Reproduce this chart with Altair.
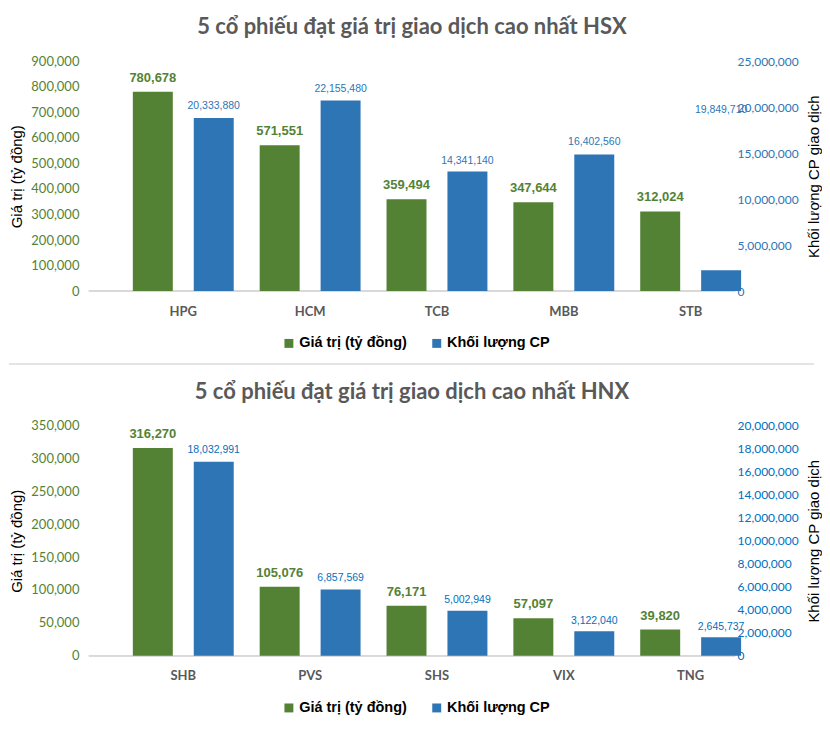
import altair as alt
import pandas as pd

SERIES = ["Giá trị (tỷ đồng)", "Khối lượng CP"]
GREEN = "#548235"
BLUE = "#2E75B6"

# ---- HSX panel data ----
hsx_title = "5 cổ phiếu đạt giá trị giao dịch cao nhất HSX"
hsx_codes = ["HPG", "HCM", "TCB", "MBB", "STB"]
hsx_value = [780678, 571551, 359494, 347644, 312024]
hsx_volume_label = [20333880, 22155480, 14341140, 16402560, 19849710]
hsx_volume_bar = [18840000, 20730000, 13010000, 14860000, 2280000]
hsx_left_ticks = [0, 100000, 200000, 300000, 400000, 500000, 600000, 700000, 800000, 900000]
hsx_right_ticks = [0, 5000000, 10000000, 15000000, 20000000, 25000000]

# ---- HNX panel data ----
hnx_title = "5 cổ phiếu đạt giá trị giao dịch cao nhất HNX"
hnx_codes = ["SHB", "PVS", "SHS", "VIX", "TNG"]
hnx_value = [316270, 105076, 76171, 57097, 39820]
hnx_volume_label = [18032991, 6857569, 5002949, 3122040, 2645737]
hnx_volume_bar = [16880000, 5760000, 3900000, 2120000, 1600000]
hnx_left_ticks = [0, 50000, 100000, 150000, 200000, 250000, 300000, 350000]
hnx_right_ticks = [0, 2000000, 4000000, 6000000, 8000000, 10000000, 12000000,
                   14000000, 16000000, 18000000, 20000000]

W = 647
H = 230
NARROW = "Liberation Sans Narrow, Arial Narrow, Liberation Sans"


def panel(title, codes, value, vol_label, vol_bar, left_ticks, right_ticks, right_color):
    dv = pd.DataFrame({"code": codes, "series": SERIES[0], "value": value})
    db = pd.DataFrame({"code": codes, "series": SERIES[1], "bar": vol_bar, "label": vol_label})

    x = alt.X("code:N", sort=codes,
              scale=alt.Scale(range=[31, 666], paddingInner=0, paddingOuter=0),
              axis=alt.Axis(title=None, domain=False, ticks=False, labelAngle=0,
                            labelFont="Lato", labelFontWeight="bold", labelFontSize=13,
                            labelColor="#595959", labelPadding=14))
    xo = alt.XOffset("series:N",
                     scale=alt.Scale(domain=SERIES, paddingInner=0.344, paddingOuter=0.213))
    color = alt.Color("series:N",
                      scale=alt.Scale(domain=SERIES, range=[GREEN, BLUE]),
                      legend=alt.Legend(orient="none", legendX=193, legendY=275,
                                        direction="horizontal", title=None,
                                        symbolType="square", symbolSize=80,
                                        symbolStrokeWidth=0, labelFont="Liberation Sans",
                                        labelFontWeight="bold", labelFontSize=14.5,
                                        labelColor="#000000", columnPadding=22,
                                        labelOffset=3))

    left_axis = alt.Axis(orient="left", values=left_ticks, format=",.0f", grid=False,
                         domain=False, ticks=False, labelFont="Lato", labelFontSize=13,
                         labelColor=GREEN, labelPadding=10,
                         title="Giá trị (tỷ đồng)", titleFont="Liberation Sans",
                         titleFontSize=15, titleFontWeight="normal", titleColor="#000000",
                         titlePadding=6)
    left_scale = alt.Scale(domain=[0, left_ticks[-1]], nice=False)

    right_axis = alt.Axis(orient="right", values=right_ticks, format=",.0f", grid=False,
                          domain=False, ticks=False, labelFont="Lato", labelFontSize=12,
                          labelColor=right_color, labelPadding=2,
                          title="Khối lượng CP giao dịch", titleFont="Liberation Sans",
                          titleFontSize=15, titleFontWeight="normal", titleColor="#000000",
                          titleAngle=270, titleBaseline="top", titlePadding=8)
    right_scale = alt.Scale(domain=[0, right_ticks[-1]], nice=False)

    bv = alt.Chart(dv)
    baseline = bv.mark_rule(color="#D9D9D9", strokeWidth=1.5).encode(
        y=alt.datum(0, scale=left_scale, axis=left_axis))
    green_bars = bv.mark_bar().encode(
        x=x, xOffset=xo,
        y=alt.Y("value:Q", scale=left_scale, axis=left_axis),
        color=color)
    green_text = bv.mark_text(font=NARROW, fontSize=13, fontWeight="bold",
                              color=GREEN, baseline="alphabetic", dy=-10).encode(
        x=x, xOffset=xo,
        y=alt.Y("value:Q", scale=left_scale, axis=left_axis),
        text=alt.Text("value:Q", format=","))

    bb = alt.Chart(db)
    blue_bars = bb.mark_bar().encode(
        x=x, xOffset=xo,
        y=alt.Y("bar:Q", scale=right_scale, axis=right_axis),
        color=color)
    blue_text = bb.mark_text(font=NARROW, fontSize=10.5, color=right_color,
                             baseline="middle", dy=1.5).encode(
        x=x, xOffset=xo,
        y=alt.Y("label:Q", scale=right_scale, axis=right_axis),
        text=alt.Text("label:Q", format=","))

    left = alt.layer(baseline, green_bars, green_text)
    right = alt.layer(blue_bars, blue_text)
    return alt.layer(left, right).resolve_scale(y="independent").properties(
        width=W, height=H,
        title=alt.Title(title, font="Lato", fontSize=22, fontWeight="bold",
                        color="#595959", anchor="middle", frame="group", offset=16))


top = panel(hsx_title, hsx_codes, hsx_value, hsx_volume_label, hsx_volume_bar,
            hsx_left_ticks, hsx_right_ticks, BLUE)
bottom = panel(hnx_title, hnx_codes, hnx_value, hnx_volume_label, hnx_volume_bar,
               hnx_left_ticks, hnx_right_ticks, "#0070C0")

sep = alt.Chart(pd.DataFrame({"a": [0]})).mark_rule(color="#E4E4E4", strokeWidth=2).encode(
    x=alt.value(-80), x2=alt.value(726), y=alt.value(0)).properties(width=W, height=4)

chart = alt.vconcat(top, sep, bottom, spacing=13).resolve_scale(
    x="independent", y="independent", color="independent", xOffset="independent"
).resolve_legend(color="independent").properties(
    padding={"left": 0, "top": 8, "right": 0, "bottom": 0}
).configure_view(stroke=None)

chart.save("out.html", embed_options={"renderer": "svg", "actions": False})
